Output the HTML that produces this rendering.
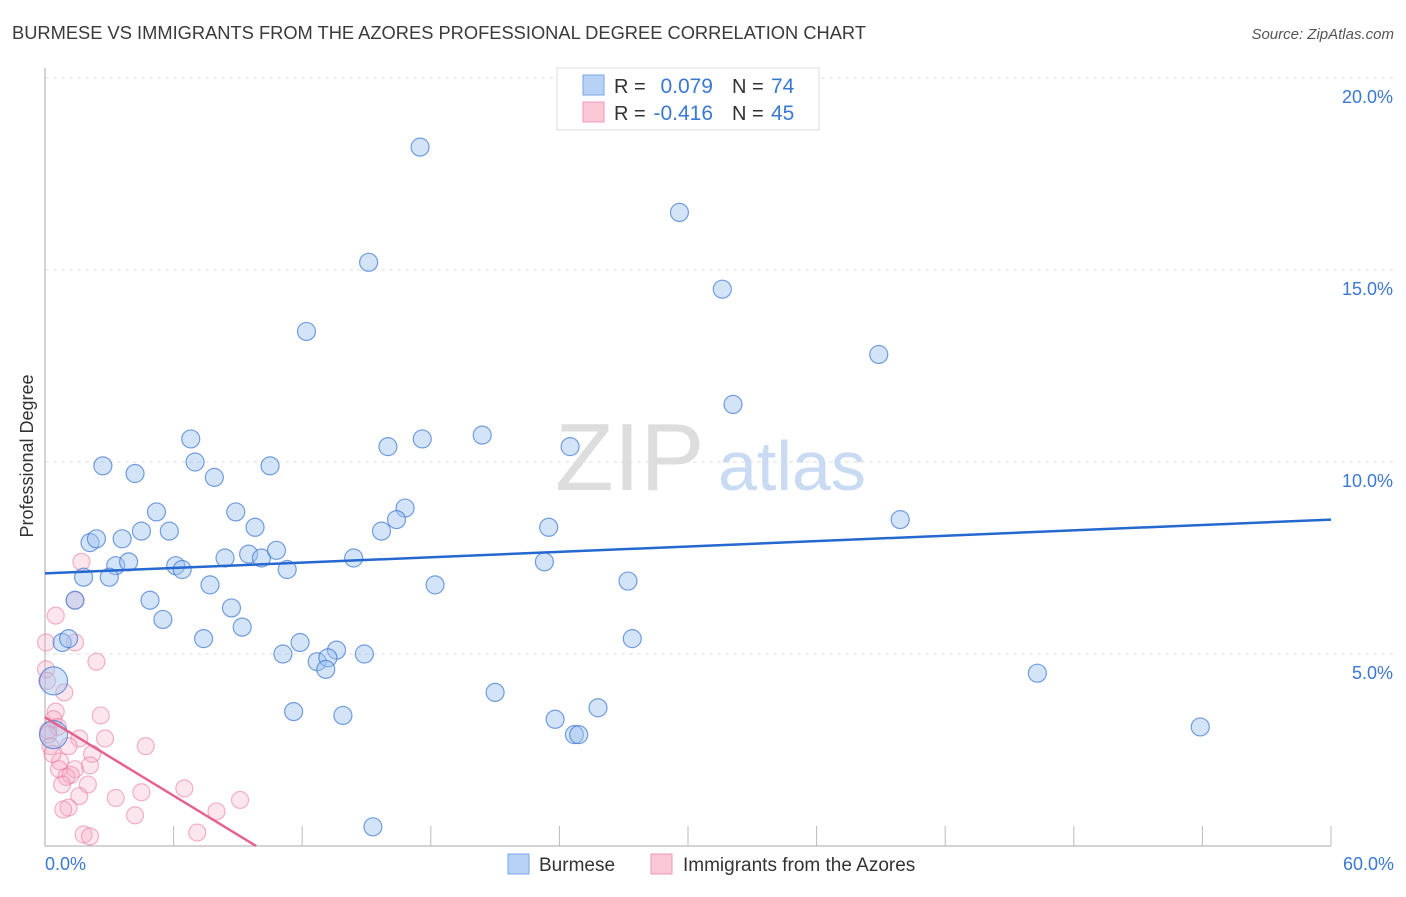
<!DOCTYPE html>
<html><head><meta charset="utf-8"><style>
body{margin:0;background:#fff;font-family:"Liberation Sans",sans-serif;}
svg text{font-family:"Liberation Sans",sans-serif;}
</style></head><body>
<svg width="1406" height="892" viewBox="0 0 1406 892">
<text x="12" y="39" font-size="18" fill="#3a3a3a" textLength="854" lengthAdjust="spacingAndGlyphs">BURMESE VS IMMIGRANTS FROM THE AZORES PROFESSIONAL DEGREE CORRELATION CHART</text>
<text x="1394" y="39" font-size="15" fill="#555" font-style="italic" text-anchor="end">Source: ZipAtlas.com</text>
<text x="33" y="456" font-size="18" fill="#333" text-anchor="middle" transform="rotate(-90 33 456)">Professional Degree</text>
<g id="grid"></g>
<line x1="45" y1="68" x2="45" y2="846" stroke="#aaa"/>
<line x1="45" y1="846" x2="1331" y2="846" stroke="#aaa"/>
<g id="xticks"></g>
<g id="ylabels"></g>
<text x="45" y="870" font-size="18" fill="#3a78d4">0.0%</text>
<text x="1394" y="870" font-size="18" fill="#3a78d4" text-anchor="end">60.0%</text>
<text x="555" y="490" font-size="96" fill="#ddd" font-family="Liberation Serif">ZIP</text>
<text x="718" y="490" font-size="70" fill="#c9daf3">atlas</text>
<g id="pts"></g>
<g id="lines"></g>
<g>
<rect x="557" y="68" width="262" height="62" fill="#fff" stroke="#ddd"/>
<rect x="583" y="75" width="21" height="20" fill="#b8d2f5" stroke="#7aa6e6"/>
<rect x="583" y="102" width="21" height="20" fill="#fbc8d8" stroke="#ee9ab5"/>
<text x="614" y="93" font-size="20" fill="#333">R =</text>
<text x="713" y="93" font-size="21" fill="#3a78d4" text-anchor="end">0.079</text>
<text x="732" y="93" font-size="20" fill="#333">N =</text>
<text x="771" y="93" font-size="21" fill="#3a78d4">74</text>
<text x="614" y="120" font-size="20" fill="#333">R =</text>
<text x="713" y="120" font-size="21" fill="#3a78d4" text-anchor="end">-0.416</text>
<text x="732" y="120" font-size="20" fill="#333">N =</text>
<text x="771" y="120" font-size="21" fill="#3a78d4">45</text>
</g>
<g>
<rect x="508" y="854" width="21" height="20" fill="#b8d2f5" stroke="#7aa6e6"/>
<text x="539" y="871" font-size="19" fill="#333">Burmese</text>
<rect x="651" y="854" width="21" height="20" fill="#fbc8d8" stroke="#ee9ab5"/>
<text x="683" y="871" font-size="19" fill="#333">Immigrants from the Azores</text>
</g>
</svg>
<script>
const yTicks=[5,10,15,20];
const xTicks=[0,6,12,18,24,30,36,42,48,54,60];
const blueX=[17.5,29.6,15.1,31.6,12.2,38.9,32.1,6.8,16.0,17.6,20.4,24.5,2.7,4.2,7.0,7.9,10.5,5.2,8.9,16.8,39.9,2.1,2.4,3.6,4.5,5.8,9.8,15.7,16.4,23.5,3.3,3.9,6.1,6.4,8.4,9.5,10.1,10.8,11.3,14.4,23.3,1.8,3.0,7.7,18.2,27.2,1.4,4.9,8.7,5.5,9.2,0.8,1.1,7.4,11.9,27.4,11.1,13.6,14.9,12.7,13.2,13.1,46.3,21.0,0.4,11.6,13.9,23.8,25.8,24.7,24.9,53.9,0.4,15.3];
const blueY=[18.2,16.5,15.2,14.5,13.4,12.8,11.5,10.6,10.4,10.6,10.7,10.4,9.9,9.7,10.0,9.6,9.9,8.7,8.7,8.8,8.5,7.9,8.0,8.0,8.2,8.2,8.3,8.2,8.5,8.3,7.3,7.4,7.3,7.2,7.5,7.6,7.5,7.7,7.2,7.5,7.4,7.0,7.0,6.8,6.8,6.9,6.4,6.4,6.2,5.9,5.7,5.3,5.4,5.4,5.3,5.4,5.0,5.1,5.0,4.8,4.9,4.6,4.5,4.0,4.3,3.5,3.4,3.3,3.6,2.9,2.9,3.1,2.9,0.5];
const blueR=[9,9,9,9,9,9,9,9,9,9,9,9,9,9,9,9,9,9,9,9,9,9,9,9,9,9,9,9,9,9,9,9,9,9,9,9,9,9,9,9,9,9,9,9,9,9,9,9,9,9,9,9,9,9,9,9,9,9,9,9,9,9,9,9,14,9,9,9,9,9,9,9,14,9];
const pinkX=[1.7,1.4,0.5,0.05,1.4,2.4,0.05,0.1,0.9,0.5,0.4,2.6,0.6,1.6,2.8,4.7,1.1,2.2,0.7,1.4,2.1,0.65,1.0,1.2,0.8,2.0,1.6,6.5,3.3,4.5,9.1,1.1,0.85,4.2,8.0,1.8,2.1,7.1,0.15,0.15,0.25,0.35];
const pinkY=[7.4,6.4,6.0,5.3,5.3,4.8,4.6,4.3,4.0,3.5,3.3,3.4,3.1,2.8,2.8,2.6,2.6,2.4,2.2,2.0,2.1,2.0,1.8,1.85,1.6,1.6,1.3,1.5,1.25,1.4,1.2,1.0,0.95,0.8,0.9,0.3,0.25,0.35,3.0,2.9,2.6,2.4];
const blueTrend=[[0,7.1],[60,8.5]];
const pinkTrend=[[0,3.35],[9.85,0]];
const X=v=>45+v/60*1286, Y=v=>846-v/5*192;
const NS='http://www.w3.org/2000/svg';
function mk(t,a,p){const e=document.createElementNS(NS,t);for(const k in a)e.setAttribute(k,a[k]);document.getElementById(p).appendChild(e);return e;}
yTicks.forEach(t=>{
 const l=mk('line',{x1:45,x2:1394,y1:Y(t),y2:Y(t),stroke:'#ddd','stroke-dasharray':'4,4'},'grid');
 
 
 const tx=mk('text',{x:1393,y:Y(t)+25,'font-size':18,fill:'#3a78d4','text-anchor':'end'},'ylabels');
 tx.textContent=t.toFixed(1)+'%';
 
 
});
xTicks.slice(1).forEach(t=>{
 const l=mk('line',{x1:X(t),x2:X(t),y1:826,y2:846,stroke:'#bbb'},'xticks');
 
 
});
pinkX.forEach((v,i)=>{
 const c=mk('circle',{cx:X(v),cy:Y(pinkY[i]),r:8.5,fill:'rgba(247,170,195,0.3)',stroke:'rgba(232,120,155,0.55)','stroke-width':1.2},'pts');
 
 
});
blueX.forEach((v,i)=>{
 const c=mk('circle',{cx:X(v),cy:Y(blueY[i]),r:blueR[i],fill:'rgba(160,195,240,0.45)',stroke:'rgba(60,120,210,0.7)','stroke-width':1.2},'pts');
 
 
});
const bl=mk('line',{x1:X(blueTrend[0][0]),y1:Y(blueTrend[0][1]),x2:X(blueTrend[1][0]),y2:Y(blueTrend[1][1]),stroke:'#2468d0','stroke-width':2.5},'lines');


const pl=mk('line',{x1:X(pinkTrend[0][0]),y1:Y(pinkTrend[0][1]),x2:X(pinkTrend[1][0]),y2:Y(pinkTrend[1][1]),stroke:'#e5628f','stroke-width':2.5},'lines');


</script>
</body></html>
